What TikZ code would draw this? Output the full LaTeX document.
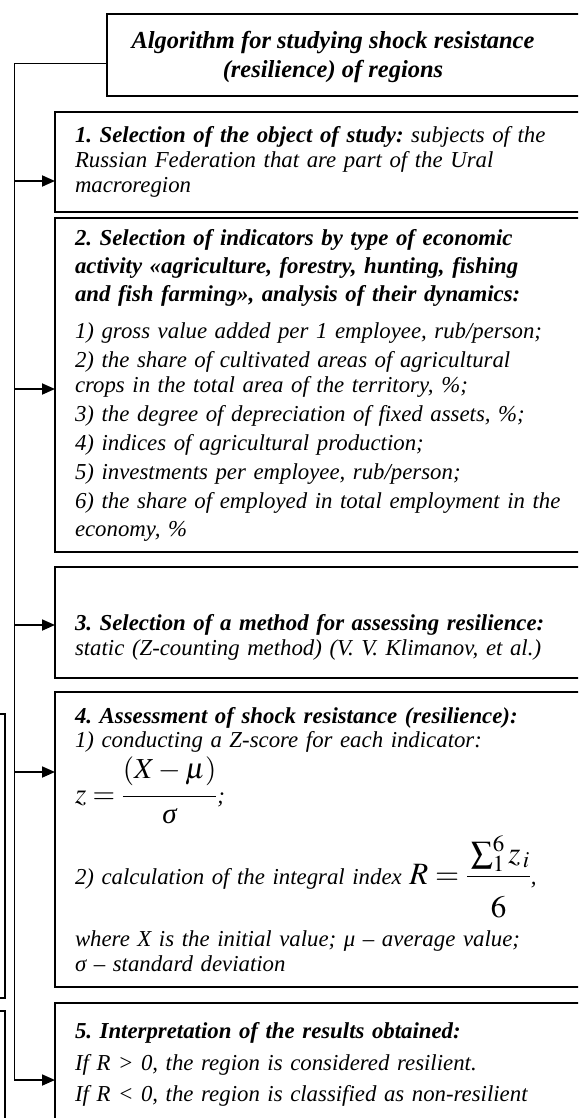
\documentclass[tikz,border=0pt]{standalone}
\usepackage{amsmath}
\usepackage{mathptmx}
\usepackage{fontspec}
\setmainfont{Liberation Serif}
\usetikzlibrary{positioning, arrows.meta}

\newcommand{\fixlines}{\lineskiplimit=-100pt\frenchspacing\relax}

\begin{document}
\begin{tikzpicture}[x=1pt, y=-1pt,
      frame/.style={draw, line width=2pt, anchor=north west, inner sep=0pt, outer sep=0pt},
      head/.style={align=center, font=\bfseries\itshape\fontsize{24.5}{29}\selectfont\fixlines},
      box/.style={draw, line width=2pt, anchor=north west, text width=515pt,
        inner xsep=20pt, inner ysep=0pt, outer sep=0pt, align=left,
        font=\itshape\fontsize{22.8}{25}\selectfont\fixlines},
      arr/.style={-{Triangle[length=13pt, width=11pt]}, line width=1.8pt},
      link/.style={line width=0.9pt},
      frag/.style={line width=1.3pt}
    ]
    \useasboundingbox (0,0) rectangle (578,1118);
    \clip (0,0) rectangle (578,1118);

    % heading
    \node[frame, minimum width=500pt, minimum height=82pt] (titlebox) at (107,14) {};
    \node[head] (title) at (333,57) {Algorithm for studying shock resistance\\(resilience) of regions};

    % stages
    \node[box, minimum height=100pt] (s1) at (55,112) {\bfseries 1. Selection of the object of study: \mdseries subjects of the\\
      Russian Federation that are part of the Ural\\macroregion};
    \node[box, minimum height=334pt, below=6pt of s1.south west, anchor=north west] (s2) {\bfseries
      2. Selection of indicators by type of economic\\[3pt]
      activity «agriculture, forestry, hunting, fishing\\[3pt]
      and fish farming», analysis of their dynamics:\\[12pt]
      \mdseries 1) gross value added per 1 employee, rub/person;\\[4pt]
      2) the share of cultivated areas of agricultural\\
      crops in the total area of the territory, \%;\\[4pt]
      3) the degree of depreciation of fixed assets, \%;\\[4pt]
      4) indices of agricultural production;\\[4pt]
      5) investments per employee, rub/person;\\[4pt]
      6) the share of employed in total employment in the\\[3pt]
      economy, \%};
    \node[box, minimum height=111pt, below=15pt of s2.south west, anchor=north west] (s3) {\rule{0pt}{45pt}\bfseries
      3. Selection of a method for assessing resilience:\\
      \mdseries static (Z-counting method) (V. V. Klimanov, et al.)};
    \node[box, minimum height=295pt, below=14pt of s3.south west, anchor=north west] (s4) {\bfseries
      4. Assessment of shock resistance (resilience):\\[-1pt]
      \mdseries 1) conducting a Z-score for each indicator:\\[31pt]
      {\fontsize{29}{25}\selectfont $z=\dfrac{\rule[-14pt]{0pt}{14pt}(X-\mu)}{\rule{0pt}{20pt}\text{σ}}$};\\[56pt]
      2) calculation of the integral index {\fontsize{31}{25}\selectfont $R=\dfrac{\rule[-9pt]{0pt}{9pt}\sum_{1}^{6} z_{\,i}}{\rule{0pt}{36pt}6}$},\\[37pt]
      where X is the initial value; μ – average value;\\
      σ – standard deviation};
    \node[box, minimum height=123pt, below=16pt of s4.south west, anchor=north west] (s5) {\bfseries
      5. Interpretation of the results obtained:\\[7pt]
      \mdseries If R > 0, the region is considered resilient.\\[6pt]
      If R < 0, the region is classified as non-resilient};

    % trunk and branches
    \coordinate (a1) at (14,181);
    \coordinate (a2) at (14,389);
    \coordinate (a3) at (14,625);
    \coordinate (a4) at (14,772);
    \coordinate (a5) at (14,1080);

    \draw[link] ([yshift=-8pt]titlebox.west) -| (a5);
    \draw[arr] (a1) -- (a1 -| s1.west);
    \draw[arr] (a2) -- (a2 -| s2.west);
    \draw[arr] (a3) -- (a3 -| s3.west);
    \draw[arr] (a4) -- (a4 -| s4.west);
    \draw[arr] (a5) -- (a5 -| s5.west);

    % edges of the neighbouring boxes, cut off at the left
    \draw[frag] (-20,714) rectangle (5,998);
    \draw[frag] (-20,1011) rectangle (5,1200);
  \end{tikzpicture}
\end{document}
